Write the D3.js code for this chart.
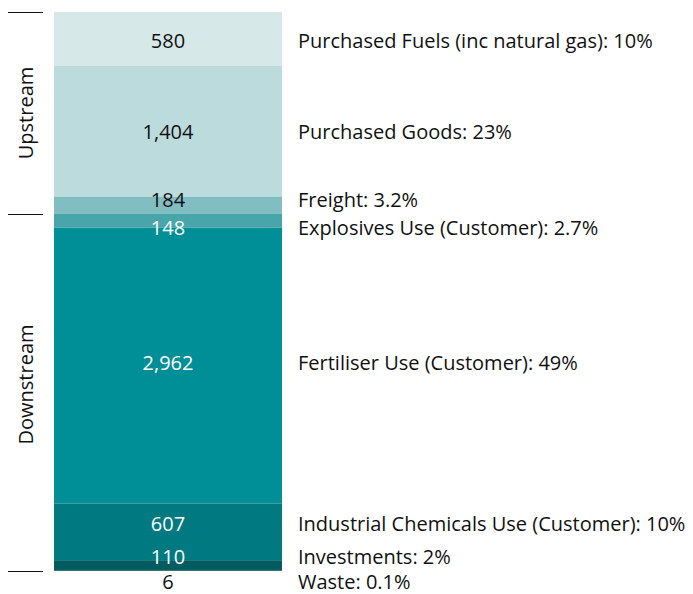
<!DOCTYPE html>
<html><head><meta charset="utf-8">
<script src="https://cdn.jsdelivr.net/npm/d3@7"></script>
<style>body{margin:0;background:#fff}svg{display:block}</style>
</head><body>
<svg id="c" width="693" height="594"></svg>
<script>
const categories = ["Purchased Fuels (inc natural gas)","Purchased Goods","Freight","Explosives Use (Customer)","Fertiliser Use (Customer)","Industrial Chemicals Use (Customer)","Investments","Waste"];
const values = [580,1404,184,148,2962,607,110,6];
const percents = ["10%","23%","3.2%","2.7%","49%","10%","2%","0.1%"];
const groups = ["Upstream","Upstream","Upstream","Downstream","Downstream","Downstream","Downstream","Downstream"];
const colors = ["#d6e8e8","#bbdbdc","#82bdc2","#48a6ab","#008f96","#007a80","#005c60","#003f42"];
const valueTextColors = ["#111","#111","#111","#fff","#fff","#fff","#fff","#111"];
const labelNudge = [2,1,-5,7,-3,-8,-8,11];

(function(){
const font = "'Open Sans', sans-serif";
const fs = 20;
const svg = d3.select("#c");
const yTop = 12, yBottom = 571, barX0 = 54, barX1 = 282, labelX = 298;
const total = d3.sum(values);
const y = d3.scaleLinear().domain([0,total]).range([yTop,yBottom]);
let acc = 0;
const segs = values.map((v,i)=>{const s={i,v,y0:acc,y1:acc+v};acc+=v;return s;});

svg.selectAll("rect.seg").data(segs).join("rect")
  .attr("x",barX0).attr("width",barX1-barX0)
  .attr("y",d=>y(d.y0)).attr("height",d=>y(d.y1)-y(d.y0))
  .attr("fill",d=>colors[d.i]);

const ly = d=> (d.i===values.length-1 ? y(d.y1) : (y(d.y0)+y(d.y1))/2) + labelNudge[d.i];

svg.selectAll("text.val").data(segs).join("text")
  .attr("x",(barX0+barX1)/2).attr("y",ly).attr("dy","0.35em")
  .attr("text-anchor","middle").attr("font-family",font).attr("font-size",fs)
  .attr("fill",d=>valueTextColors[d.i]).text(d=>d3.format(",")(d.v));

svg.selectAll("text.lab").data(segs).join("text")
  .attr("x",labelX).attr("y",ly).attr("dy","0.35em")
  .attr("font-family",font).attr("font-size",fs).attr("fill","#111")
  .text(d=>categories[d.i]+": "+percents[d.i]);

const groupNames = Array.from(new Set(groups));
const gExt = groupNames.map(g=>{
  const s = segs.filter(d=>groups[d.i]===g);
  return {g, y0:d3.min(s,d=>d.y0), y1:d3.max(s,d=>d.y1)};
});
const bounds = Array.from(new Set(gExt.flatMap(d=>[d.y0,d.y1])));
svg.selectAll("line.br").data(bounds).join("line")
  .attr("x1",8).attr("x2",43).attr("y1",d=>Math.round(y(d))+0.5).attr("y2",d=>Math.round(y(d))+0.5)
  .attr("stroke","#111").attr("stroke-width",1.2);
svg.selectAll("text.grp").data(gExt).join("text")
  .attr("transform",d=>`translate(26,${(y(d.y0)+y(d.y1))/2 - (d.g==="Downstream"?8:0)}) rotate(-90)`)
  .attr("dy","0.35em").attr("text-anchor","middle")
  .attr("font-family",font).attr("font-size",fs).attr("fill","#111").text(d=>d.g);
})();
</script>
</body></html>
